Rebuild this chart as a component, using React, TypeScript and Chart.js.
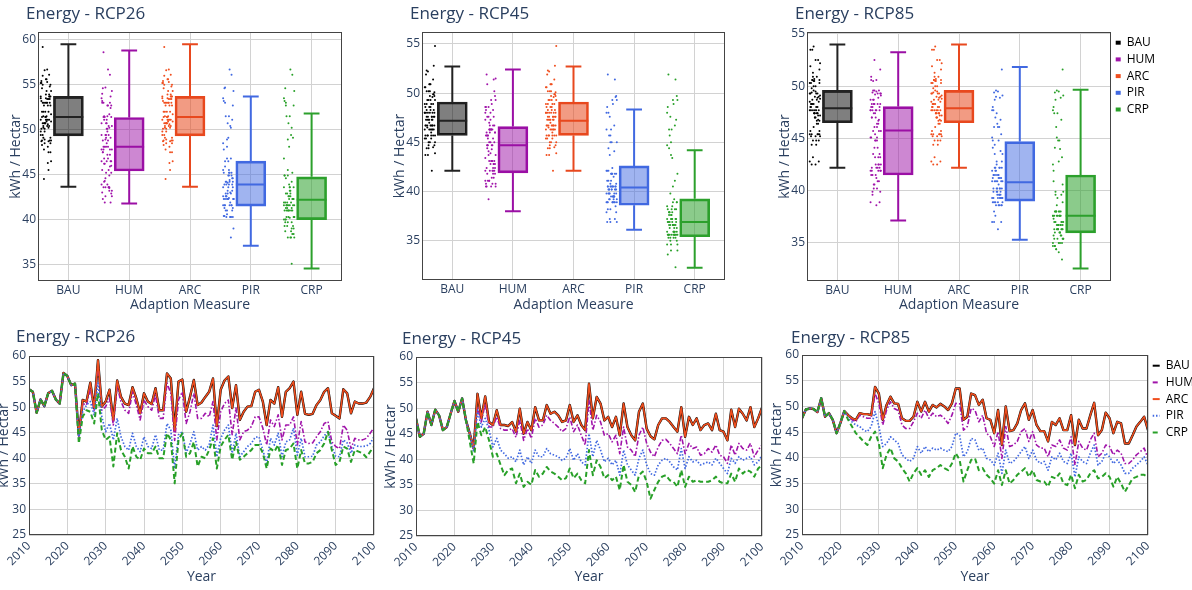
import React, { useEffect, useRef } from 'react';
import { Chart, registerables } from 'chart.js';

Chart.register(...registerables);

const FONT = '"Open Sans", "DejaVu Sans", sans-serif';
const TXT = '#2a3f5f';
const GRID = '#d2d2d2';
const FRAME = '#444444';
Chart.defaults.font.family = FONT;
Chart.defaults.color = TXT;

// ---------- categories / ticks ----------
const MEASURES = ['BAU', 'HUM', 'ARC', 'PIR', 'CRP'];
const YEARS = [
  2010, 2011, 2012, 2013, 2014, 2015, 2016, 2017, 2018, 2019,
  2020, 2021, 2022, 2023, 2024, 2025, 2026, 2027, 2028, 2029,
  2030, 2031, 2032, 2033, 2034, 2035, 2036, 2037, 2038, 2039,
  2040, 2041, 2042, 2043, 2044, 2045, 2046, 2047, 2048, 2049,
  2050, 2051, 2052, 2053, 2054, 2055, 2056, 2057, 2058, 2059,
  2060, 2061, 2062, 2063, 2064, 2065, 2066, 2067, 2068, 2069,
  2070, 2071, 2072, 2073, 2074, 2075, 2076, 2077, 2078, 2079,
  2080, 2081, 2082, 2083, 2084, 2085, 2086, 2087, 2088, 2089,
  2090, 2091, 2092, 2093, 2094, 2095, 2096, 2097, 2098, 2099,
  2100,
];
const YEAR_TICKS = [2010, 2020, 2030, 2040, 2050, 2060, 2070, 2080, 2090, 2100];
const LINE_Y_TICKS = [25, 30, 35, 40, 45, 50, 55, 60];
const BOX_Y_TICKS_26 = [35, 40, 45, 50, 55, 60];
const BOX_Y_TICKS_45 = [35, 40, 45, 50, 55];
const BOX_Y_TICKS_85 = [35, 40, 45, 50, 55];

// ---------- RCP26 yearly series ----------
const bau26 = [
  53.5, 53.0, 48.9, 51.5, 50.2, 52.7, 53.2, 51.5, 50.7, 56.7,
  56.1, 54.3, 54.6, 44.5, 51.4, 51.1, 54.8, 49.8, 59.2, 50.1,
  51.1, 53.4, 47.5, 55.2, 52.0, 50.7, 50.4, 53.9, 51.7, 48.8,
  52.7, 51.1, 50.6, 53.7, 49.4, 49.4, 56.6, 55.6, 45.5, 55.0,
  55.4, 49.1, 52.0, 55.3, 50.4, 50.9, 52.0, 53.0, 55.6, 46.3,
  53.4, 55.2, 56.0, 49.8, 54.3, 47.5, 49.1, 50.1, 50.2, 53.0,
  53.4, 51.1, 46.5, 51.4, 50.7, 53.9, 48.1, 53.0, 53.7, 55.0,
  48.5, 53.0, 48.7, 48.5, 48.7, 50.4, 51.4, 53.0, 53.7, 48.8,
  48.3, 47.8, 53.5, 52.7, 48.8, 51.1, 50.7, 50.7, 50.9, 52.0,
  53.7,
];
const hum26 = [
  53.5, 53.0, 48.9, 51.5, 50.2, 52.7, 53.2, 51.5, 50.7, 56.7,
  56.1, 54.3, 54.6, 44.3, 50.7, 50.4, 53.7, 49.4, 58.6, 49.4,
  50.1, 51.7, 46.5, 54.0, 51.1, 49.4, 48.8, 53.0, 50.4, 47.5,
  51.4, 50.1, 49.4, 52.4, 47.8, 47.8, 54.7, 52.7, 43.5, 51.4,
  53.0, 46.8, 49.1, 52.7, 47.8, 47.8, 48.8, 48.1, 51.1, 43.6,
  49.1, 50.7, 51.4, 44.6, 49.8, 43.6, 45.2, 45.5, 46.2, 48.1,
  48.1, 45.9, 42.6, 47.5, 46.2, 48.5, 43.6, 46.5, 46.5, 48.1,
  42.6, 47.2, 43.2, 42.9, 43.0, 44.2, 45.2, 46.8, 47.2, 43.2,
  42.3, 41.9, 46.5, 45.5, 41.9, 43.9, 43.6, 43.6, 43.9, 44.9,
  46.0,
];
const arc26 = [
  53.5, 53.0, 48.9, 51.5, 50.2, 52.7, 53.2, 51.5, 50.7, 56.7,
  56.1, 54.3, 54.6, 44.5, 51.4, 51.1, 54.8, 49.8, 59.2, 50.1,
  51.1, 53.4, 47.5, 55.2, 52.0, 50.7, 50.4, 53.9, 51.7, 48.8,
  52.7, 51.1, 50.6, 53.7, 49.4, 49.4, 56.6, 55.6, 45.5, 55.0,
  55.4, 49.1, 52.0, 55.3, 50.4, 50.9, 52.0, 53.0, 55.6, 46.3,
  53.4, 55.2, 56.0, 49.8, 54.3, 47.5, 49.1, 50.1, 50.2, 53.0,
  53.4, 51.1, 46.5, 51.4, 50.7, 53.9, 48.1, 53.0, 53.7, 55.0,
  48.5, 53.0, 48.7, 48.5, 48.7, 50.4, 51.4, 53.0, 53.7, 48.8,
  48.3, 47.8, 53.5, 52.7, 48.8, 51.1, 50.7, 50.7, 50.9, 52.0,
  53.7,
];
const pir26 = [
  53.5, 53.0, 48.9, 51.5, 50.2, 52.7, 53.2, 51.5, 50.7, 56.7,
  56.1, 54.3, 54.6, 43.9, 49.1, 50.4, 51.1, 48.5, 54.7, 48.1,
  45.2, 46.8, 43.6, 47.8, 44.2, 42.3, 41.6, 44.9, 42.3, 41.3,
  44.2, 42.3, 41.9, 44.6, 41.6, 41.6, 46.8, 45.5, 38.0, 44.6,
  45.2, 41.0, 42.9, 45.2, 41.6, 42.3, 41.6, 42.6, 46.5, 40.3,
  43.9, 45.5, 46.5, 41.0, 44.9, 40.3, 41.3, 42.3, 42.9, 44.1,
  44.2, 41.6, 39.0, 43.9, 42.6, 44.9, 40.3, 43.2, 43.6, 45.9,
  40.6, 43.9, 40.3, 40.3, 40.4, 42.6, 43.2, 44.4, 45.2, 42.3,
  40.4, 40.3, 43.6, 43.0, 41.0, 42.6, 42.3, 42.3, 42.4, 42.9,
  44.2,
];
const crp26 = [
  53.5, 53.0, 48.9, 51.5, 50.2, 52.7, 53.2, 51.5, 50.7, 56.7,
  56.1, 54.3, 54.6, 42.9, 48.1, 49.4, 49.1, 46.8, 52.7, 45.5,
  43.6, 44.2, 38.4, 44.9, 41.6, 40.3, 38.0, 42.3, 40.3, 39.7,
  41.9, 41.0, 41.0, 42.3, 40.0, 40.0, 44.9, 43.6, 35.1, 43.6,
  44.9, 40.3, 41.0, 43.2, 38.4, 40.3, 40.0, 41.6, 43.9, 38.0,
  42.3, 43.6, 44.6, 39.7, 43.2, 39.7, 40.3, 41.0, 41.6, 42.6,
  42.6, 41.0, 38.0, 41.9, 41.3, 42.6, 38.7, 41.6, 41.9, 42.9,
  38.0, 41.6, 39.0, 39.0, 39.3, 41.0, 41.6, 42.9, 45.2, 41.6,
  38.7, 39.3, 42.3, 41.9, 39.3, 41.6, 41.3, 41.0, 40.2, 41.3,
  42.3,
];

// ---------- RCP45 yearly series ----------
const bau45 = [
  48.0, 44.4, 45.0, 49.3, 46.7, 49.7, 48.6, 45.7, 46.3, 48.9,
  51.4, 49.3, 51.9, 47.6, 45.0, 42.1, 52.8, 48.0, 52.3, 47.3,
  46.7, 49.6, 46.7, 46.7, 46.5, 47.3, 45.4, 49.9, 45.0, 47.3,
  45.7, 50.2, 47.6, 47.6, 50.6, 48.9, 49.3, 48.6, 47.3, 47.6,
  50.6, 47.3, 48.6, 46.7, 45.7, 54.8, 48.0, 52.2, 50.9, 47.6,
  48.3, 46.3, 48.3, 44.7, 50.9, 46.3, 44.7, 43.7, 49.3, 50.9,
  46.0, 44.5, 43.9, 46.7, 48.0, 48.0, 47.3, 46.3, 45.4, 50.2,
  44.4, 48.3, 46.7, 48.0, 45.7, 46.7, 47.0, 45.7, 48.9, 45.7,
  45.4, 43.7, 49.7, 46.3, 49.9, 48.9, 47.6, 50.2, 46.3, 48.0,
  50.1,
];
const hum45 = [
  48.0, 44.4, 45.0, 49.3, 46.7, 49.7, 48.6, 45.7, 46.3, 48.9,
  51.4, 49.3, 51.9, 47.6, 45.0, 42.1, 50.2, 47.3, 50.9, 46.3,
  46.3, 48.3, 46.0, 45.7, 45.7, 46.0, 44.3, 47.6, 43.7, 46.0,
  44.1, 48.0, 46.3, 46.7, 48.6, 47.6, 47.0, 46.3, 45.4, 46.0,
  48.3, 45.4, 46.7, 44.7, 42.8, 51.5, 45.7, 48.6, 47.3, 44.7,
  45.0, 43.4, 44.7, 41.1, 46.3, 42.4, 41.8, 40.5, 44.7, 46.3,
  43.1, 41.4, 40.5, 42.4, 43.7, 43.9, 43.1, 42.1, 41.1, 44.7,
  41.1, 43.1, 42.1, 42.4, 40.8, 41.1, 42.1, 41.4, 42.8, 40.8,
  40.5, 39.2, 42.8, 40.8, 43.1, 42.1, 41.8, 43.1, 40.5, 41.8,
  42.8,
];
const arc45 = [
  48.0, 44.4, 45.0, 49.3, 46.7, 49.7, 48.6, 45.7, 46.3, 48.9,
  51.4, 49.3, 51.9, 47.6, 45.0, 42.1, 52.8, 48.0, 52.3, 47.3,
  46.7, 49.6, 46.7, 46.7, 46.5, 47.3, 45.4, 49.9, 45.0, 47.3,
  45.7, 50.2, 47.6, 47.6, 50.6, 48.9, 49.3, 48.6, 47.3, 47.6,
  50.6, 47.3, 48.6, 46.7, 45.7, 54.8, 48.0, 52.2, 50.9, 47.6,
  48.3, 46.3, 48.3, 44.7, 50.9, 46.3, 44.7, 43.7, 49.3, 50.9,
  46.0, 44.5, 43.9, 46.7, 48.0, 48.0, 47.3, 46.3, 45.4, 50.2,
  44.4, 48.3, 46.7, 48.0, 45.7, 46.7, 47.0, 45.7, 48.9, 45.7,
  45.4, 43.7, 49.7, 46.3, 49.9, 48.9, 47.6, 50.2, 46.3, 48.0,
  50.1,
];
const pir45 = [
  48.0, 44.4, 45.0, 49.3, 46.7, 49.7, 48.6, 45.7, 46.3, 48.9,
  51.4, 49.3, 51.9, 47.6, 45.0, 41.5, 49.6, 46.3, 48.0, 45.7,
  42.4, 44.1, 41.8, 41.1, 40.2, 40.5, 39.5, 41.8, 38.9, 40.5,
  39.2, 41.8, 40.5, 40.5, 42.1, 41.1, 40.8, 40.5, 39.8, 40.2,
  42.1, 39.8, 41.1, 39.5, 38.9, 45.0, 40.5, 43.7, 41.8, 39.5,
  40.2, 38.9, 39.8, 36.9, 41.8, 38.9, 37.9, 36.9, 40.2, 41.8,
  38.9, 37.2, 36.9, 38.9, 39.8, 40.2, 39.5, 38.5, 37.9, 42.1,
  38.2, 40.5, 39.5, 39.8, 38.9, 39.2, 39.5, 38.9, 40.2, 39.2,
  38.2, 37.2, 40.2, 39.2, 40.5, 39.8, 40.2, 40.5, 38.9, 39.5,
  40.8,
];
const crp45 = [
  48.0, 44.4, 45.0, 49.3, 46.7, 49.7, 48.6, 45.7, 46.3, 48.9,
  51.4, 49.3, 51.9, 47.6, 43.4, 39.2, 47.3, 44.7, 46.3, 43.7,
  40.5, 41.1, 38.9, 36.9, 37.9, 38.2, 35.3, 37.2, 34.6, 35.6,
  35.0, 37.9, 36.6, 37.2, 38.5, 37.6, 37.2, 36.6, 35.9, 36.3,
  38.2, 36.3, 37.2, 35.9, 35.3, 41.8, 36.9, 39.8, 38.5, 36.3,
  36.9, 35.9, 36.6, 34.0, 38.9, 35.6, 35.0, 33.6, 36.9, 37.6,
  35.6, 32.3, 34.0, 35.6, 36.6, 36.9, 35.9, 35.6, 34.6, 37.9,
  34.6, 36.6, 35.6, 35.9, 35.6, 35.6, 35.6, 35.9, 36.6, 35.6,
  35.3, 35.3, 37.2, 35.6, 38.2, 37.2, 37.9, 37.6, 36.6, 38.2,
  38.9,
];

// ---------- RCP85 yearly series ----------
const bau85 = [
  47.7, 49.4, 49.6, 49.5, 48.9, 51.6, 48.0, 48.7, 47.4, 44.8,
  46.8, 49.1, 48.3, 47.7, 47.4, 48.7, 48.5, 48.5, 48.3, 53.8,
  52.5, 47.4, 50.3, 51.9, 50.6, 50.5, 47.7, 47.2, 47.2, 48.0,
  50.9, 49.0, 50.9, 49.0, 50.3, 49.8, 50.5, 50.0, 49.3, 50.6,
  53.5, 53.5, 47.4, 48.0, 52.5, 52.2, 50.3, 51.3, 47.7, 47.4,
  44.8, 49.3, 42.5, 50.0, 45.2, 45.4, 46.7, 49.3, 50.6, 47.4,
  49.3, 46.4, 45.2, 45.2, 43.2, 47.0, 46.4, 47.7, 45.4, 45.4,
  48.3, 42.5, 47.4, 45.7, 45.7, 48.3, 50.7, 44.4, 45.4, 48.8,
  47.7, 44.8, 47.0, 46.7, 42.8, 42.8, 44.4, 46.1, 47.0, 48.0,
  45.4,
];
const hum85 = [
  47.7, 49.4, 49.6, 49.5, 48.9, 51.6, 48.0, 48.7, 47.4, 44.8,
  46.8, 49.1, 48.3, 47.4, 47.0, 48.3, 48.0, 47.7, 47.7, 52.5,
  50.6, 46.4, 49.3, 50.9, 49.6, 49.2, 46.4, 45.7, 45.7, 47.0,
  48.7, 47.7, 49.3, 47.7, 48.7, 48.0, 48.3, 47.7, 46.7, 48.3,
  50.6, 50.5, 45.4, 46.1, 49.6, 49.3, 47.0, 48.3, 44.8, 44.1,
  42.2, 45.1, 39.9, 46.1, 42.2, 42.5, 43.2, 45.1, 45.7, 43.2,
  45.1, 42.5, 41.9, 41.9, 40.2, 42.5, 42.2, 43.5, 41.9, 41.5,
  44.1, 38.6, 43.2, 41.9, 41.5, 43.5, 44.8, 40.2, 40.9, 42.5,
  42.2, 40.6, 41.5, 40.9, 38.9, 38.9, 39.6, 40.6, 41.2, 41.9,
  39.9,
];
const arc85 = [
  47.7, 49.4, 49.6, 49.5, 48.9, 51.6, 48.0, 48.7, 47.4, 44.8,
  46.8, 49.1, 48.3, 47.7, 47.4, 48.7, 48.5, 48.5, 48.3, 53.8,
  52.5, 47.4, 50.3, 51.9, 50.6, 50.5, 47.7, 47.2, 47.2, 48.0,
  50.9, 49.0, 50.9, 49.0, 50.3, 49.8, 50.5, 50.0, 49.3, 50.6,
  53.5, 53.5, 47.4, 48.0, 52.5, 52.2, 50.3, 51.3, 47.7, 47.4,
  44.8, 49.3, 42.5, 50.0, 45.2, 45.4, 46.7, 49.3, 50.6, 47.4,
  49.3, 46.4, 45.2, 45.2, 43.2, 47.0, 46.4, 47.7, 45.4, 45.4,
  48.3, 42.5, 47.4, 45.7, 45.7, 48.3, 50.7, 44.4, 45.4, 48.8,
  47.7, 44.8, 47.0, 46.7, 42.8, 42.8, 44.4, 46.1, 47.0, 48.0,
  45.4,
];
const pir85 = [
  47.7, 49.4, 49.6, 49.5, 48.9, 51.6, 48.0, 48.7, 47.4, 44.8,
  46.8, 49.1, 47.7, 47.0, 46.4, 46.1, 45.4, 45.1, 46.1, 49.0,
  46.1, 42.2, 42.8, 44.1, 43.5, 42.8, 40.6, 39.9, 39.3, 39.9,
  42.2, 40.9, 42.2, 41.2, 41.9, 41.5, 41.9, 41.5, 41.2, 42.2,
  44.8, 44.4, 40.2, 41.2, 43.8, 43.5, 41.5, 41.9, 39.9, 39.6,
  38.6, 40.9, 37.0, 41.5, 38.9, 39.3, 40.2, 41.2, 42.2, 39.9,
  41.5, 39.6, 38.9, 39.3, 37.6, 40.2, 39.6, 40.9, 39.3, 38.9,
  40.9, 36.3, 40.2, 39.3, 38.9, 40.9, 42.5, 38.6, 39.3, 40.9,
  40.2, 38.9, 39.6, 38.6, 37.0, 37.0, 38.0, 38.6, 39.3, 40.2,
  38.6,
];
const crp85 = [
  47.7, 49.4, 49.6, 49.5, 48.9, 51.6, 48.0, 48.7, 47.4, 44.8,
  46.8, 49.1, 47.4, 46.1, 44.8, 44.0, 43.2, 42.5, 44.1, 45.1,
  42.8, 38.0, 40.6, 41.9, 39.9, 39.3, 38.0, 37.0, 35.4, 37.0,
  38.0, 36.7, 37.6, 36.3, 37.6, 38.0, 38.6, 38.0, 37.6, 38.9,
  40.9, 39.6, 35.4, 37.6, 39.6, 39.9, 37.6, 38.0, 36.7, 36.0,
  35.0, 37.6, 34.7, 37.6, 35.0, 35.7, 36.7, 37.3, 38.0, 36.3,
  37.6, 35.7, 35.4, 35.4, 34.4, 36.3, 36.0, 37.0, 35.0, 34.7,
  36.7, 34.1, 36.7, 35.4, 35.7, 37.0, 37.6, 36.0, 36.3, 37.0,
  36.3, 34.4, 36.3, 35.0, 33.4, 34.7, 36.0, 36.3, 36.7, 36.7,
  36.3,
];

// ---------- box statistics (BAU, HUM, ARC, PIR, CRP) ----------
const box26Min = [43.65, 41.8, 43.65, 37.1, 34.55];
const box26Q1 = [49.3, 45.4, 49.3, 41.5, 40.0];
const box26Med = [51.4, 48.1, 51.4, 43.9, 42.2];
const box26Q3 = [53.7, 51.35, 53.7, 46.5, 44.75];
const box26Max = [59.5, 58.8, 59.5, 53.7, 51.8];

const box45Min = [42.1, 38.0, 42.1, 36.1, 32.25];
const box45Q1 = [45.7, 41.9, 45.7, 38.6, 35.4];
const box45Med = [47.2, 44.7, 47.2, 40.4, 36.9];
const box45Q3 = [49.1, 46.6, 49.1, 42.6, 39.25];
const box45Max = [52.7, 52.4, 52.7, 48.35, 44.2];

const box85Min = [42.2, 37.15, 42.2, 35.3, 32.55];
const box85Q1 = [46.5, 41.5, 46.5, 39.0, 35.95];
const box85Med = [47.9, 45.75, 47.9, 40.8, 37.6];
const box85Q3 = [49.6, 48.05, 49.6, 44.7, 41.5];
const box85Max = [54.0, 53.25, 54.0, 51.85, 49.65];

// ---------- styles ----------
const BOX_COLORS = ['#222222', 'rgb(155,15,165)', 'rgb(232,72,30)', 'rgb(65,105,225)', 'rgb(44,160,44)'];
const BOX_FILLS = ['rgba(0,0,0,0.5)', 'rgba(155,15,165,0.5)', 'rgba(232,72,30,0.55)', 'rgba(65,105,225,0.5)', 'rgba(44,160,44,0.55)'];
const LINE_COLORS = ['#000000', 'rgb(160,20,170)', 'rgb(240,78,30)', 'rgb(65,105,225)', 'rgb(40,160,40)'];
const LINE_WIDTHS = [2.4, 1.6, 1.6, 1.7, 2];
const LINE_DASHES: number[][] = [[], [5, 2, 1.5, 2], [], [1.5, 1.8], [5, 3]];

const jitter = (i: number) => ((i * 37) % 17) / 16 - 0.5;

const framePlugin = {
  id: 'frame',
  afterDraw(chart: any) {
    const { ctx, chartArea: a } = chart;
    ctx.save();
    ctx.strokeStyle = FRAME;
    ctx.lineWidth = 1;
    ctx.strokeRect(Math.round(a.left) + 0.5, Math.round(a.top) + 0.5, Math.round(a.right - a.left) - 1, Math.round(a.bottom - a.top) - 1);
    ctx.restore();
  },
};

// places the chart title block at a given x inside the canvas
function titleAt(x: number) {
  return {
    id: 'titleAt',
    afterLayout(chart: any) {
      if (chart.titleBlock) chart.titleBlock.left = x;
    },
  };
}

type Box = { left: number; top: number; width: number; height: number };

function yScale(o: any) {
  return {
    type: 'linear',
    min: o.min,
    max: o.max,
    afterBuildTicks: (s: any) => { s.ticks = o.ticks.map((v: number) => ({ value: v })); },
    afterFit: (s: any) => { s.width = o.w; },
    grid: { color: GRID, drawTicks: false, lineWidth: 1 },
    border: { display: false },
    ticks: { font: { size: 12 }, color: TXT, padding: o.tickPad },
    title: { display: true, text: 'kWh / Hectar', font: { size: 14 }, color: TXT, padding: { top: o.titlePad, bottom: 0 } },
  };
}

function boxConfig(o: any) {
  const datasets: any[] = [];
  MEASURES.forEach((m, c) => {
    const cap = 0.13;
    const half = 0.245;
    datasets.push({
      type: 'line',
      label: m + ' whiskers',
      data: [
        { x: c - cap, y: o.maxs[c] }, { x: c + cap, y: o.maxs[c] }, { x: c, y: NaN },
        { x: c, y: o.maxs[c] }, { x: c, y: o.q3s[c] }, { x: c, y: NaN },
        { x: c, y: o.q1s[c] }, { x: c, y: o.mins[c] }, { x: c, y: NaN },
        { x: c - cap, y: o.mins[c] }, { x: c + cap, y: o.mins[c] }, { x: c, y: NaN },
        { x: c - half, y: o.meds[c] }, { x: c + half, y: o.meds[c] },
      ],
      borderColor: BOX_COLORS[c],
      borderWidth: 2,
      pointRadius: 0,
      spanGaps: false,
      tension: 0,
      order: 0,
    });
  });
  datasets.push({
    type: 'bar',
    label: 'boxes',
    data: MEASURES.map((m, c) => ({ x: c, y: [o.q1s[c], o.q3s[c]] })),
    backgroundColor: BOX_FILLS,
    borderColor: BOX_COLORS,
    borderWidth: 2,
    borderSkipped: false,
    barThickness: 30,
    order: 1,
  });
  o.series.forEach((vals: number[], c: number) => {
    datasets.push({
      type: 'scatter',
      label: MEASURES[c] + ' points',
      data: vals.map((v, i) => ({ x: c - 0.37 + 0.17 * jitter(i), y: v })),
      backgroundColor: LINE_COLORS[c],
      borderWidth: 0,
      pointRadius: 1,
      order: 2,
    });
  });

  return {
    type: 'bar',
    data: { datasets },
    options: {
      animation: false,
      responsive: false,
      devicePixelRatio: 1,
      events: [],
      layout: { padding: { left: 0, right: o.padR, top: 0, bottom: 0 } },
      plugins: {
        tooltip: { enabled: false },
        title: { display: true, text: o.title, align: 'start', color: TXT, font: { size: 17, weight: 'normal' }, padding: { top: 4, bottom: 7.6 } },
        legend: o.legend
          ? {
              display: true,
              position: 'right',
              align: 'start',
              fullSize: false,
              maxWidth: 45,
              onClick: null,
              labels: {
                font: { size: 12 },
                color: TXT,
                boxWidth: 5,
                boxHeight: 4,
                padding: 4.7,
                generateLabels: () => MEASURES.map((m, i) => ({ text: m, fillStyle: LINE_COLORS[i], strokeStyle: LINE_COLORS[i], lineWidth: 0, hidden: false, datasetIndex: i })),
              },
            }
          : { display: false },
      },
      scales: {
        x: {
          type: 'linear',
          min: -0.5,
          max: 4.5,
          offset: false,
          afterBuildTicks: (s: any) => { s.ticks = MEASURES.map((m, i) => ({ value: i })); },
          afterFit: (s: any) => { s.height = o.xH; },
          grid: { color: GRID, drawTicks: false, offset: false },
          border: { display: false },
          ticks: { font: { size: 12 }, color: TXT, padding: 2, maxRotation: 0, autoSkip: false, callback: (v: number) => MEASURES[v] },
          title: { display: true, text: 'Adaption Measure', font: { size: 14 }, color: TXT, padding: { top: 0, bottom: 6.6 } },
        },
        y: yScale({ min: o.yMin, max: o.yMax, ticks: o.yTicks, w: o.yW, tickPad: 2, titlePad: o.yTitlePad }),
      },
    },
    plugins: [framePlugin, titleAt(o.titleX)],
  };
}

function lineConfig(o: any) {
  const datasets = MEASURES.map((m, i) => ({
    label: m,
    data: o.series[i],
    borderColor: LINE_COLORS[i],
    borderWidth: LINE_WIDTHS[i],
    borderDash: LINE_DASHES[i],
    borderJoinStyle: 'round',
    pointRadius: 0,
    tension: 0,
    fill: false,
    order: 4 - i,
  }));
  return {
    type: 'line',
    data: { labels: YEARS, datasets },
    options: {
      animation: false,
      responsive: false,
      devicePixelRatio: 1,
      events: [],
      layout: { padding: { left: 0, right: o.padR, top: 0, bottom: 0 } },
      plugins: {
        tooltip: { enabled: false },
        title: { display: true, text: o.title, align: 'start', color: TXT, font: { size: 17, weight: 'normal' }, padding: { top: o.tpt, bottom: o.tpb } },
        legend: o.legend
          ? {
              display: true,
              position: 'right',
              align: 'start',
              fullSize: false,
              maxWidth: 44,
              onClick: null,
              labels: {
                font: { size: 12 },
                color: TXT,
                usePointStyle: true,
                pointStyleWidth: 7,
                padding: 4.7,
                generateLabels: () => MEASURES.map((m, i) => ({ text: m, fillStyle: LINE_COLORS[i], strokeStyle: LINE_COLORS[i], lineWidth: 2, lineDash: LINE_DASHES[i], pointStyle: 'line', hidden: false, datasetIndex: i })),
              },
            }
          : { display: false },
      },
      scales: {
        x: {
          type: 'linear',
          min: 2010,
          max: 2100,
          afterBuildTicks: (s: any) => { s.ticks = YEAR_TICKS.map((v) => ({ value: v })); },
          afterFit: (s: any) => { s.height = o.xH; },
          grid: { color: GRID, drawTicks: false },
          border: { display: false },
          ticks: { font: { size: 12 }, color: TXT, padding: 4, minRotation: 45, maxRotation: 45, autoSkip: false, callback: (v: number) => String(v) },
          title: { display: true, text: 'Year', font: { size: 14 }, color: TXT, padding: { top: 0, bottom: 4.6 } },
        },
        y: yScale({ min: 25, max: 60, ticks: LINE_Y_TICKS, w: o.yW, tickPad: 3, titlePad: o.yTitlePad }),
      },
    },
    plugins: [framePlugin, titleAt(o.titleX)],
  };
}

function Panel({ box, make }: { box: Box; make: () => any }) {
  const ref = useRef<HTMLCanvasElement>(null);
  useEffect(() => {
    if (!ref.current) return;
    const chart = new Chart(ref.current, make() as any);
    return () => chart.destroy();
  }, []);
  return (
    <canvas
      ref={ref}
      width={box.width}
      height={box.height}
      style={{ position: 'absolute', left: box.left, top: box.top, width: box.width, height: box.height }}
    />
  );
}

const PANELS: { box: Box; make: () => any }[] = [
  {
    box: { left: 0, top: 0, width: 395, height: 320 },
    make: () => boxConfig({
      title: 'Energy - RCP26', series: [bau26, hum26, arc26, pir26, crp26],
      mins: box26Min, q1s: box26Q1, meds: box26Med, q3s: box26Q3, maxs: box26Max,
      yMin: 33.17, yMax: 60.86, yTicks: BOX_Y_TICKS_26, titleX: 26, padR: 53, yW: 38, yTitlePad: 7.6, xH: 39, legend: false,
    }),
  },
  {
    box: { left: 380, top: 0, width: 400, height: 320 },
    make: () => boxConfig({
      title: 'Energy - RCP45', series: [bau45, hum45, arc45, pir45, crp45],
      mins: box45Min, q1s: box45Q1, meds: box45Med, q3s: box45Q3, maxs: box45Max,
      yMin: 31.0, yMax: 56.22, yTicks: BOX_Y_TICKS_45, titleX: 30, padR: 55, yW: 42, yTitlePad: 11.6, xH: 40, legend: false,
    }),
  },
  {
    box: { left: 770, top: 0, width: 422, height: 320 },
    make: () => boxConfig({
      title: 'Energy - RCP85', series: [bau85, hum85, arc85, pir85, crp85],
      mins: box85Min, q1s: box85Q1, meds: box85Med, q3s: box85Q3, maxs: box85Max,
      yMin: 31.35, yMax: 55.19, yTicks: BOX_Y_TICKS_85, titleX: 25, padR: 36, yW: 37, yTitlePad: 6.6, xH: 39, legend: true,
    }),
  },
  {
    box: { left: -10, top: 320, width: 400, height: 270 },
    make: () => lineConfig({
      title: 'Energy - RCP26', series: [bau26, hum26, arc26, pir26, crp26],
      titleX: 26, padR: 16, yW: 39, xH: 55, tpt: 7.3, tpb: 8.3, yTitlePad: 5.9, legend: false,
    }),
  },
  {
    box: { left: 380, top: 320, width: 400, height: 270 },
    make: () => lineConfig({
      title: 'Energy - RCP45', series: [bau45, hum45, arc45, pir45, crp45],
      titleX: 22, padR: 18, yW: 36, xH: 54, tpt: 8.5, tpb: 8.1, yTitlePad: 2.6, legend: false,
    }),
  },
  {
    box: { left: 770, top: 320, width: 422, height: 270 },
    make: () => lineConfig({
      title: 'Energy - RCP85', series: [bau85, hum85, arc85, pir85, crp85],
      titleX: 21, padR: 0, yW: 32, xH: 55, tpt: 8, tpb: 6.6, yTitlePad: -0.9, legend: true,
    }),
  },
];

export default function App() {
  return (
    <div style={{ position: 'absolute', left: 0, top: 0, width: 1192, height: 590, overflow: 'hidden', background: '#ffffff' }}>
      {PANELS.map((p, i) => (
        <Panel key={i} box={p.box} make={p.make} />
      ))}
    </div>
  );
}
